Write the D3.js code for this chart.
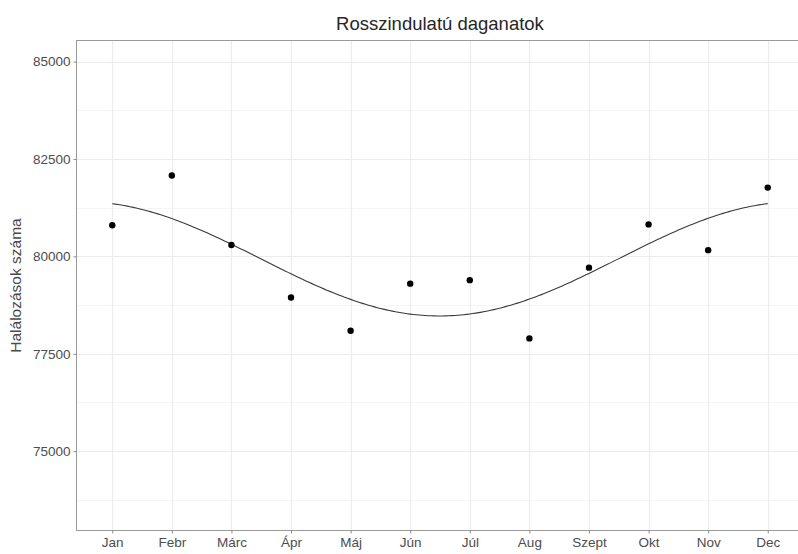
<!DOCTYPE html>
<html>
<head>
<meta charset="utf-8">
<script src="https://cdn.jsdelivr.net/npm/d3@7"></script>
<style>
  html, body { margin: 0; padding: 0; background: #fff; }
  svg { display: block; font-family: Arial, "Liberation Sans", sans-serif; }
</style>
</head>
<body>
<svg id="chart" width="798" height="554"></svg>
<script>
// Monthly deaths from malignant neoplasms
const months = ["Jan", "Febr", "Márc", "Ápr", "Máj", "Jún", "Júl", "Aug", "Szept", "Okt", "Nov", "Dec"];
const deaths = [80800, 82075, 80290, 78945, 78090, 79300, 79390, 77895, 79710, 80820, 80160, 81765];
const yTicks = [75000, 77500, 80000, 82500, 85000];
const yMinor = [73750, 76250, 78750, 81250, 83750];
const title = "Rosszindulatú daganatok";
const yTitle = "Halálozások száma";

const svg = d3.select("#chart");
const panel = { left: 76.5, top: 40.5, right: 803.5, bottom: 530.5 };

const x = d3.scalePoint()
  .domain(months)
  .range([panel.left, panel.right])
  .padding(0.6);

const y = d3.scaleLinear()
  .domain([72965, 85540])
  .range([panel.bottom, panel.top]);

// Seasonal trend: least-squares fit of one annual harmonic to the monthly values
const n = deaths.length;
const mean = d3.mean(deaths);
let ca = 0, sb = 0;
deaths.forEach((v, i) => {
  const t = 2 * Math.PI * (i + 1) / 12;
  ca += (v - mean) * Math.cos(t);
  sb += (v - mean) * Math.sin(t);
});
ca *= 2 / n; sb *= 2 / n;
const trend = d3.range(1, 12.0001, 0.05).map(m => {
  const t = 2 * Math.PI * m / 12;
  return { m, v: mean + ca * Math.cos(t) + sb * Math.sin(t) };
});
const step = x.step();
const xm = m => x(months[0]) + (m - 1) * step;

const g = svg.append("g");
g.append("rect")
  .attr("x", panel.left).attr("y", panel.top)
  .attr("width", panel.right - panel.left).attr("height", panel.bottom - panel.top)
  .attr("fill", "#fff");

// grid
g.selectAll(".minor").data(yMinor).join("line")
  .attr("x1", panel.left).attr("x2", panel.right)
  .attr("y1", d => Math.round(y(d)) + 0.5).attr("y2", d => Math.round(y(d)) + 0.5)
  .attr("stroke", "#f5f5f5").attr("stroke-width", 1);
g.selectAll(".hmajor").data(yTicks).join("line")
  .attr("x1", panel.left).attr("x2", panel.right)
  .attr("y1", d => Math.round(y(d)) + 0.5).attr("y2", d => Math.round(y(d)) + 0.5)
  .attr("stroke", "#ececec").attr("stroke-width", 1.2);
g.selectAll(".vmajor").data(months).join("line")
  .attr("y1", panel.top).attr("y2", panel.bottom)
  .attr("x1", d => Math.round(x(d)) + 0.5).attr("x2", d => Math.round(x(d)) + 0.5)
  .attr("stroke", "#ececec").attr("stroke-width", 1.2);

// trend curve
g.append("path")
  .datum(trend)
  .attr("fill", "none")
  .attr("stroke", "#3a3a3a")
  .attr("stroke-width", 1.1)
  .attr("d", d3.line().x(d => xm(d.m)).y(d => y(d.v)));

// points
g.selectAll("circle").data(deaths).join("circle")
  .attr("cx", (d, i) => x(months[i]))
  .attr("cy", d => y(d))
  .attr("r", 3.2)
  .attr("fill", "#000");

// panel border
g.append("rect")
  .attr("x", panel.left).attr("y", panel.top)
  .attr("width", panel.right - panel.left).attr("height", panel.bottom - panel.top)
  .attr("fill", "none").attr("stroke", "#9a9a9a").attr("stroke-width", 1);

// axes
const yAxis = svg.append("g")
  .attr("transform", `translate(${panel.left},0)`)
  .call(d3.axisLeft(y).tickValues(yTicks).tickSize(3).tickPadding(3).tickFormat(d3.format("d")));
const xAxis = svg.append("g")
  .attr("transform", `translate(0,${panel.bottom})`)
  .call(d3.axisBottom(x).tickSize(3).tickPadding(4));
[yAxis, xAxis].forEach(a => {
  a.select(".domain").remove();
  a.selectAll(".tick line").attr("stroke", "#8a8a8a");
  a.selectAll(".tick text")
    .attr("fill", "#4d4d4d")
    .style("font-size", "13.5px")
    .style("font-family", "Arial, 'Liberation Sans', sans-serif");
});

// titles
svg.append("text")
  .attr("x", (panel.left + panel.right) / 2)
  .attr("y", 30)
  .attr("text-anchor", "middle")
  .attr("fill", "#262626")
  .style("font-size", "18.5px")
  .text(title);

svg.append("text")
  .attr("transform", `translate(21,${(panel.top + panel.bottom) / 2}) rotate(-90)`)
  .attr("text-anchor", "middle")
  .attr("fill", "#4a4a4a")
  .style("font-size", "15.5px")
  .text(yTitle);
</script>
</body>
</html>
